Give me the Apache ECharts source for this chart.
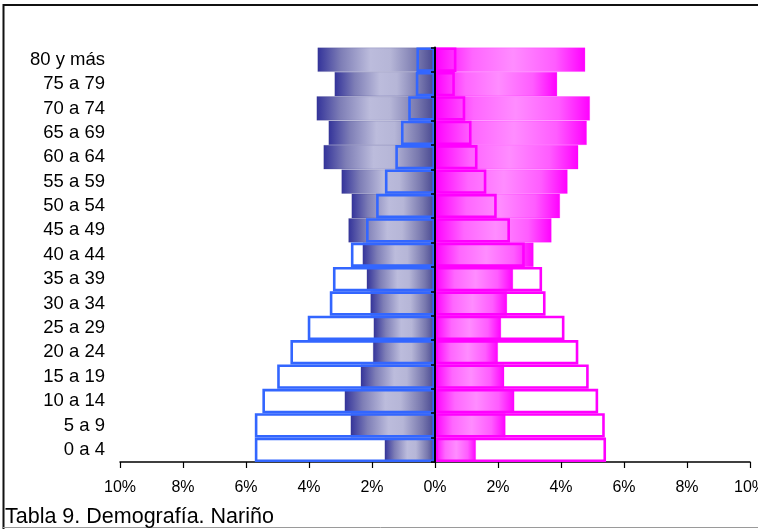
<!DOCTYPE html>
<html>
<head>
<meta charset="utf-8">
<script src="https://cdn.jsdelivr.net/npm/echarts@6/dist/echarts.min.js"></script>
<style>
html,body{margin:0;padding:0;background:#fff;}
#c{width:758px;height:529px;}
</style>
</head>
<body>
<div id="c"></div>
<script>
// Categories bottom to top
var categories = ['0 a 4','5 a 9','10 a 14','15 a 19','20 a 24','25 a 29','30 a 34','35 a 39','40 a 44','45 a 49','50 a 54','55 a 59','60 a 64','65 a 69','70 a 74','75 a 79','80 y más'];
// Left side (shown as negative)
var leftFilled  = [1.60, 2.68, 2.87, 2.36, 1.97, 1.95, 2.05, 2.17, 2.30, 2.75, 2.65, 2.97, 3.54, 3.38, 3.76, 3.19, 3.73];
var leftOutline = [5.72, 5.72, 5.48, 5.01, 4.59, 4.04, 3.34, 3.24, 2.67, 2.19, 1.87, 1.59, 1.26, 1.08, 0.85, 0.61, 0.59];
// Right side
var rightFilled  = [1.30, 2.24, 2.52, 2.20, 2.00, 2.10, 2.29, 2.48, 3.13, 3.70, 3.97, 4.21, 4.55, 4.82, 4.92, 3.88, 4.77];
var rightOutline = [5.43, 5.39, 5.18, 4.88, 4.55, 4.11, 3.51, 3.40, 2.85, 2.38, 1.96, 1.63, 1.35, 1.16, 0.96, 0.63, 0.68];
var xTicks = {min: -10, max: 10, interval: 2};
var titleText = 'Tabla 9. Demografía. Nariño';

var chart = echarts.init(document.getElementById('c'), null, {renderer: 'canvas'});
var FONT = 'Liberation Sans, Arial, sans-serif';
function neg(a){ return a.map(function(v){ return -v; }); }

var leftGrad = new echarts.graphic.LinearGradient(0, 0, 1, 0, [
  {offset: 0, color: '#33339a'},
  {offset: 0.2, color: '#7e7eb6'},
  {offset: 0.45, color: '#bcbcdc'},
  {offset: 0.62, color: '#b6b6d7'},
  {offset: 0.85, color: '#7878ae'},
  {offset: 1, color: '#45458f'}
]);
var rightGrad = new echarts.graphic.LinearGradient(0, 0, 1, 0, [
  {offset: 0, color: '#ff00ff'},
  {offset: 0.25, color: '#ff66ff'},
  {offset: 0.52, color: '#ff8cff'},
  {offset: 0.8, color: '#ff5cff'},
  {offset: 1, color: '#ff00ff'}
]);

var option = {
  animation: false,
  backgroundColor: '#ffffff',
  title: {
    text: titleText,
    left: 0,
    bottom: -4,
    textStyle: {fontFamily: FONT, fontSize: 21.5, fontWeight: 'normal', color: '#000'}
  },
  grid: {left: 120, right: 8, top: 47.5, bottom: 67, containLabel: false, outerBoundsMode: 'none'},
  xAxis: {
    type: 'value',
    min: xTicks.min, max: xTicks.max, interval: xTicks.interval,
    axisLine: {show: true, lineStyle: {color: '#000', width: 1.5}},
    axisTick: {show: true, length: 6, lineStyle: {color: '#000', width: 1.2}},
    splitLine: {show: false},
    axisLabel: {
      fontFamily: FONT, fontSize: 16, color: '#000', margin: 18,
      formatter: function(v){ return Math.abs(v) + '%'; }
    }
  },
  yAxis: [{
    type: 'category',
    data: categories,
    position: 'left',
    axisLine: {show: false, onZero: false},
    axisTick: {show: false},
    axisLabel: {interval: 0, hideOverlap: false, fontFamily: FONT, fontSize: 18.5, color: '#000', margin: 15, padding: [4, 0, 0, 0]}
  }, {
    type: 'category',
    data: categories,
    position: 'left',
    z: 6,
    axisLine: {show: true, onZero: true, lineStyle: {color: '#000', width: 2}},
    axisTick: {show: true, interval: 0, length: 4, lineStyle: {color: '#000', width: 1.5}},
    axisLabel: {show: false},
    splitLine: {show: false}
  }],
  series: [{
    name: 'Hombres',
    type: 'bar',
    yAxisIndex: 0,
    data: neg(leftFilled),
    barGap: '-100%',
    barCategoryGap: '4%',
    itemStyle: {color: leftGrad, borderColor: 'rgba(60,60,140,0.35)', borderWidth: 0.6}
  }, {
    name: 'Mujeres',
    type: 'bar',
    yAxisIndex: 0,
    data: rightFilled,
    barGap: '-100%',
    barCategoryGap: '4%',
    itemStyle: {color: rightGrad, borderColor: 'rgba(255,0,255,0.4)', borderWidth: 0.6}
  }, {
    name: 'Hombres (ref.)',
    type: 'bar',
    yAxisIndex: 0,
    data: neg(leftOutline),
    barGap: '-100%',
    barCategoryGap: '0%',
    z: 3,
    itemStyle: {color: 'rgba(0,0,0,0)', borderColor: '#3366ff', borderWidth: 2.6}
  }, {
    name: 'Mujeres (ref.)',
    type: 'bar',
    yAxisIndex: 0,
    data: rightOutline,
    barGap: '-100%',
    barCategoryGap: '0%',
    z: 3,
    itemStyle: {color: 'rgba(0,0,0,0)', borderColor: '#ff00ff', borderWidth: 2.6}
  }],
  graphic: [
    {type: 'line', shape: {x1: 3.5, y1: 4, x2: 3.5, y2: 529}, style: {stroke: '#111', lineWidth: 2}, silent: true},
    {type: 'line', shape: {x1: 3, y1: 5, x2: 758, y2: 5}, style: {stroke: '#111', lineWidth: 2}, silent: true},
    {type: 'line', shape: {x1: 3, y1: 527.5, x2: 758, y2: 527.5}, style: {stroke: '#9a9a9a', lineWidth: 1}, silent: true}
  ]
};
chart.setOption(option);
</script>
</body>
</html>
